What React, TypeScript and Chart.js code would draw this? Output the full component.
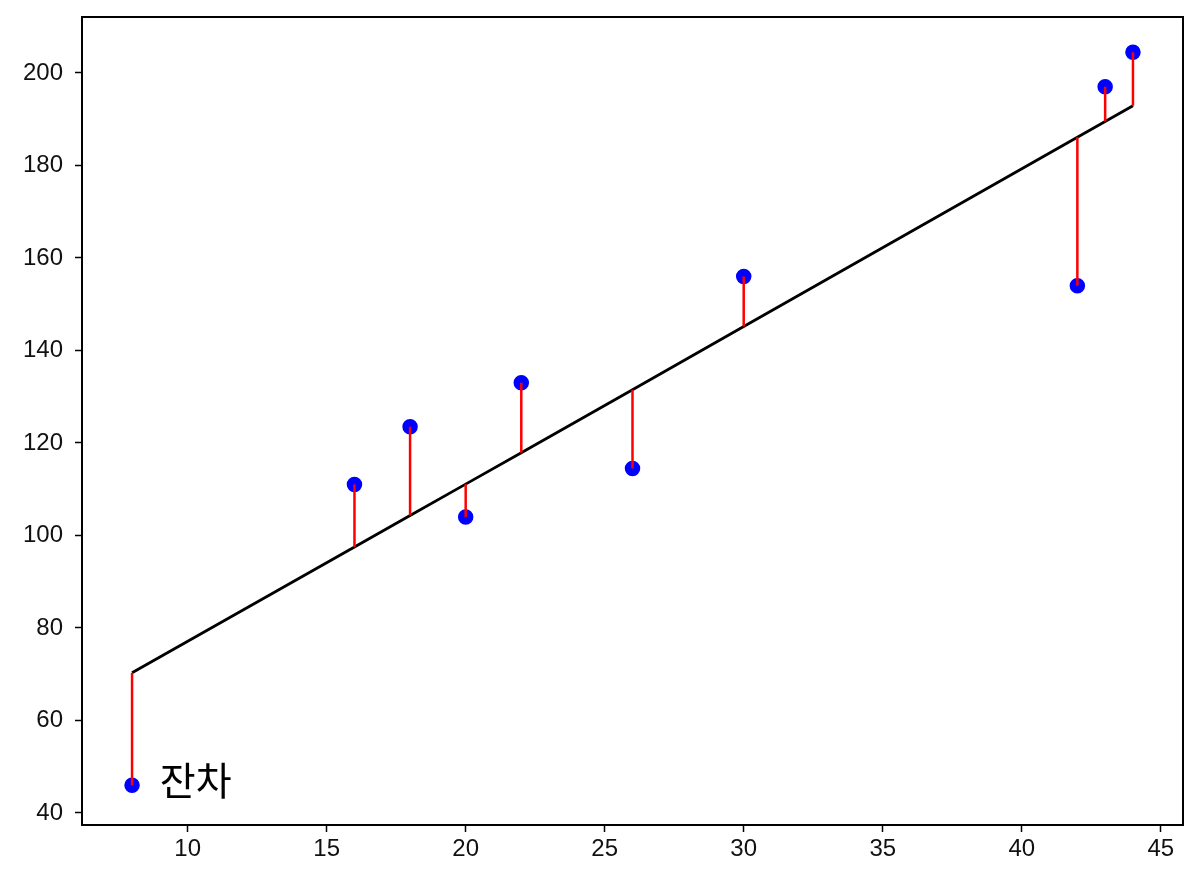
import { useEffect, useRef } from "react";
import { Chart, registerables } from "chart.js";

Chart.register(...registerables);

// 관측값
const xValues = [8, 16, 18, 20, 22, 26, 30, 42, 43, 44];
const yValues = [46, 111, 123.5, 104, 133, 114.5, 156, 154, 197, 204.5];
// 회귀선 위의 예측값
const yFitted = [70.3, 97.5, 104.3, 111.1, 117.9, 131.5, 145.2, 186.1, 189.5, 192.9];

const xTicks = [10, 15, 20, 25, 30, 35, 40, 45];
const yTicks = [40, 60, 80, 100, 120, 140, 160, 180, 200];

const labelText = "잔차";
const labelPos = { x: 9, y: 46 };

export default function App() {
  const chartRef = useRef<Chart | null>(null);
  const canvasRef = useRef<HTMLCanvasElement | null>(null);

  useEffect(() => {
    const residuals = xValues.map((x, i) => ({
      type: "line" as const,
      data: [
        { x, y: yValues[i] },
        { x, y: yFitted[i] },
      ],
      borderColor: "#ff0000",
      borderWidth: 2.5,
      pointRadius: 0,
      order: 0,
    }));

    // eslint-disable-next-line @typescript-eslint/no-explicit-any
    const textPlugin: any = {
      id: "residualLabel",
      afterDatasetsDraw(chart: Chart) {
        const { ctx, scales } = chart;
        ctx.save();
        ctx.font = '39px "Noto Sans CJK KR", sans-serif';
        ctx.fillStyle = "#000";
        ctx.textAlign = "left";
        ctx.textBaseline = "middle";
        ctx.fillText(labelText, scales.x.getPixelForValue(labelPos.x), scales.y.getPixelForValue(labelPos.y) - 5);
        ctx.restore();
      },
    };

    const tickFont = { family: '"Liberation Sans", Arial, sans-serif', size: 24 };

    if (chartRef.current) chartRef.current.destroy();
    const ctx = canvasRef.current?.getContext("2d");
    if (ctx) {
      chartRef.current = new Chart(ctx, {
        type: "scatter",
        data: {
          datasets: [
            {
              type: "line",
              data: xValues.map((x, i) => ({ x, y: yFitted[i] })),
              borderColor: "#000000",
              borderWidth: 2.8,
              pointRadius: 0,
              order: 2,
            },
            {
              type: "scatter",
              data: xValues.map((x, i) => ({ x, y: yValues[i] })),
              backgroundColor: "#0000ff",
              borderColor: "#0000ff",
              borderWidth: 1.5,
              pointRadius: 7,
              order: 1,
            },
            ...residuals,
          ],
        },
        options: {
          animation: false,
          responsive: false,
          layout: { padding: { top: 17, right: 15, left: 0, bottom: 0 } },
          plugins: { legend: { display: false }, tooltip: { enabled: false } },
          scales: {
            x: {
              type: "linear",
              min: 6.2,
              max: 45.8,
              afterBuildTicks: (s) => {
                s.ticks = xTicks.map((v) => ({ value: v }));
              },
              afterFit: (s) => {
                s.height = 55;
                s.paddingLeft = 0;
                s.paddingRight = 0;
              },
              grid: {
                drawOnChartArea: false,
                drawTicks: true,
                tickLength: 7,
                tickColor: "#000",
                tickWidth: 1.5,
              },
              border: { display: true, color: "#000", width: 2 },
              ticks: { color: "#111", font: tickFont, padding: 3, maxRotation: 0 },
            },
            y: {
              type: "linear",
              min: 37.4,
              max: 212.1,
              afterBuildTicks: (s) => {
                s.ticks = yTicks.map((v) => ({ value: v }));
              },
              afterFit: (s) => {
                s.width = 82;
                s.paddingTop = 0;
                s.paddingBottom = 0;
              },
              grid: {
                drawOnChartArea: false,
                drawTicks: true,
                tickLength: 7,
                tickColor: "#000",
                tickWidth: 1.5,
              },
              border: { display: true, color: "#000", width: 2 },
              ticks: { color: "#111", font: tickFont, padding: 12 },
            },
          },
        },
        plugins: [
          textPlugin,
          {
            id: "frame",
            afterDraw(chart: Chart) {
              const { ctx, chartArea } = chart;
              ctx.save();
              ctx.strokeStyle = "#000";
              ctx.lineWidth = 2;
              ctx.strokeRect(chartArea.left, chartArea.top, chartArea.right - chartArea.left, chartArea.bottom - chartArea.top);
              ctx.restore();
            },
          },
        ],
      });
    }

    return () => {
      if (chartRef.current) chartRef.current.destroy();
    };
  }, []);

  return (
    <div style={{ position: "fixed", left: 0, top: 0, width: 1198, height: 880, background: "#fff" }}>
      <canvas ref={canvasRef} width={1198} height={880} style={{ width: 1198, height: 880 }} />
    </div>
  );
}
